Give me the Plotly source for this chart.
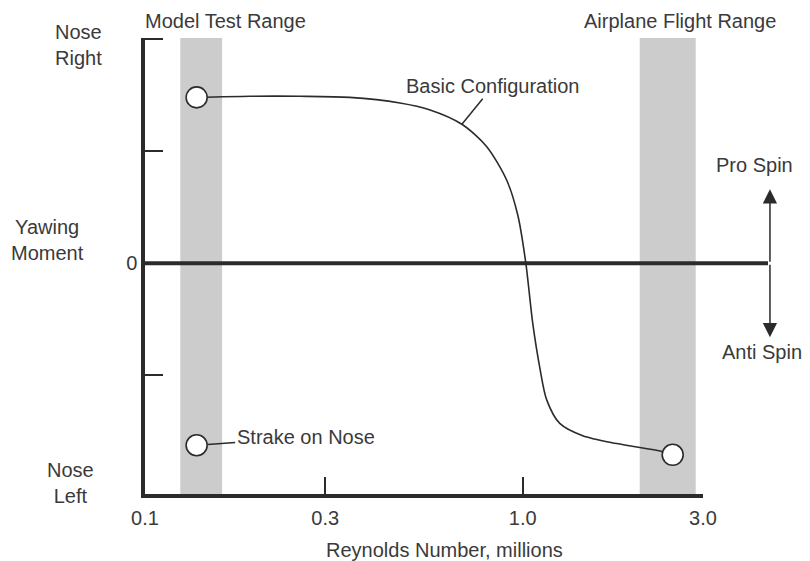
"""
Yawing moment vs Reynolds number - model test range vs airplane flight range
"""

import numpy as np
import plotly.graph_objects as go

# 基本构型曲线 (Reynolds number, millions / yawing moment)
re_basic = [0.137, 0.190, 0.257, 0.348, 0.473, 0.566, 0.690, 0.803, 0.907, 0.970,
            1.018, 1.063, 1.109, 1.157, 1.253, 1.441, 1.773, 2.332, 2.494]
ym_basic = [1.48, 1.49, 1.49, 1.48, 1.43, 1.37, 1.24, 1.04, 0.74, 0.43,
            0.01, -0.54, -0.93, -1.22, -1.43, -1.54, -1.61, -1.68, -1.71]

# 端点圆圈 (start / end of basic curve, strake on nose)
re_points = [0.137, 2.494, 0.137]
ym_points = [1.48, -1.71, -1.625]

# 试验范围
model_range = [0.124, 0.160]
flight_range = [2.04, 2.87]

x_ticks = [0.1, 0.3, 1.0, 3.0]
x_tick_text = ['0.1', '0.3', '1.0', '3.0']
y_ticks = [-1, 0, 1, 2]
y_tick_text = ['', '0', '', '']

# spin arrow lengths (yawing moment units)
pro_spin = 0.66
anti_spin = -0.66

FONT = 'Liberation Sans, Arial, sans-serif'
INK = '#2b2b2b'
TXT = '#3a3a3a'
FS = 20

fig = go.Figure()

fig.add_trace(go.Scatter(
    x=re_basic, y=ym_basic,
    mode='lines',
    line=dict(color=INK, width=1.6, shape='spline', smoothing=0.8),
    hoverinfo='skip', showlegend=False
))

fig.add_trace(go.Scatter(
    x=re_points, y=ym_points,
    mode='markers',
    marker=dict(size=21, color='white', line=dict(color=INK, width=1.6)),
    hoverinfo='skip', showlegend=False
))

shapes = []
for r in (model_range, flight_range):
    shapes.append(dict(
        type='rect', xref='x', yref='paper',
        x0=r[0], x1=r[1], y0=0, y1=1,
        fillcolor='#cccccc', line=dict(width=0), layer='below'
    ))
# 零线, 延伸到箭头处
shapes.append(dict(
    type='line', xref='paper', yref='y',
    x0=0, x1=1.1165, y0=0, y1=0,
    line=dict(color=INK, width=4), layer='below'
))

annotations = []
for txt, x, y in [('Nose<br>Right', -0.12, 0.985),
                  ('Yawing<br>Moment', -0.174, 0.557),
                  ('Nose<br>Left', -0.134, 0.024),
                  ('Model Test Range', 0.145, 1.037),
                  ('Airplane Flight Range', 0.959, 1.037),
                  ('Pro Spin', 1.093, 0.7215),
                  ('Anti Spin', 1.106, 0.311),
                  ('Reynolds Number, millions', 0.536, -0.1228)]:
    annotations.append(dict(
        text=txt, xref='paper', yref='paper', x=x, y=y,
        xanchor='center', yanchor='middle', showarrow=False,
        font=dict(family=FONT, size=FS, color=TXT)
    ))

# 引线标签
annotations.append(dict(
    text='Basic Configuration', xref='x', yref='y',
    x=np.log10(re_basic[6]), y=ym_basic[6], ax=31, ay=-38,
    showarrow=True, arrowhead=0, arrowwidth=1.5, arrowcolor=INK,
    font=dict(family=FONT, size=FS, color=TXT)
))
annotations.append(dict(
    text='Strake on Nose', xref='x', yref='y',
    x=np.log10(re_points[2]), y=ym_points[2], ax=109, ay=-8,
    standoff=11,
    showarrow=True, arrowhead=0, arrowwidth=1.5, arrowcolor=INK,
    font=dict(family=FONT, size=FS, color=TXT)
))

# Pro / Anti spin 双向箭头
for tip in (pro_spin, anti_spin):
    annotations.append(dict(
        text='', xref='paper', yref='y', ayref='y',
        x=1.12, y=tip, ax=0, ay=0,
        showarrow=True, arrowhead=2, arrowsize=1.9, arrowwidth=1.5,
        arrowcolor=INK
    ))

fig.update_layout(
    width=810, height=561,
    margin=dict(l=145, r=107, t=38, b=67),
    plot_bgcolor='white', paper_bgcolor='white',
    font=dict(family=FONT, size=FS, color=TXT),
    shapes=shapes, annotations=annotations,
    xaxis=dict(
        type='log', range=[-1, np.log10(3.0)],
        tickvals=x_ticks, ticktext=x_tick_text,
        ticks='inside', ticklen=17, tickwidth=1.5, tickcolor=INK,
        ticklabelstandoff=3, automargin=False,
        showline=True, linewidth=3.5, linecolor=INK,
        showgrid=False, zeroline=False
    ),
    yaxis=dict(
        range=[-2.06, 2.01],
        tickvals=y_ticks, ticktext=y_tick_text,
        ticks='inside', ticklen=18, tickwidth=1.5, tickcolor=INK,
        automargin=False,
        showline=True, linewidth=3.5, linecolor=INK,
        showgrid=False, zeroline=False
    )
)

fig.write_html("out.html", config={'displayModeBar': False},
               post_script="document.body.style.margin='0';")
